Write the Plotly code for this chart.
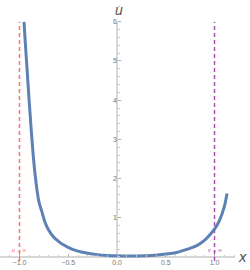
import plotly.graph_objects as go

x_vals = [-0.954, -0.94, -0.92, -0.90, -0.88, -0.86, -0.84, -0.82, -0.80, -0.77, -0.74, -0.70,
          -0.65, -0.60, -0.55, -0.50, -0.45, -0.40, -0.30, -0.20, -0.10, 0.0, 0.1, 0.2, 0.3,
          0.4, 0.5, 0.6, 0.7, 0.8, 0.85, 0.9, 0.95, 1.0, 1.05, 1.1, 1.128]
u_vals = [6.0, 5.45, 4.7, 3.95, 3.25, 2.62, 2.1, 1.7, 1.4, 1.15, 0.9, 0.68,
          0.51, 0.4, 0.31, 0.245, 0.19, 0.15, 0.095, 0.06, 0.04, 0.03, 0.025, 0.025, 0.03,
          0.045, 0.075, 0.11, 0.18, 0.27, 0.34, 0.43, 0.56, 0.71, 0.93, 1.28, 1.62]

x_ticks = [-1.0, -0.5, 0.0, 0.5, 1.0]
x_tick_labels = ["\u22121.0", "\u22120.5", "0.0", "0.5", "1.0"]
y_ticks = [1, 2, 3, 4, 5, 6]
asym_left = -1.0
asym_right = 1.0
asym_top = 6.0
asym_bottom = -0.1

XR = [-1.2, 1.364]
YR = [-0.332, 6.556]

fig = go.Figure()
fig.add_trace(go.Scatter(x=[asym_left, asym_left], y=[asym_bottom, asym_top], mode="lines",
                         line=dict(color="rgba(255,90,90,0.85)", width=1.5, dash="4px,3px"),
                         hoverinfo="skip"))
fig.add_trace(go.Scatter(x=[asym_right, asym_right], y=[asym_bottom, asym_top], mode="lines",
                         line=dict(color="rgba(160,50,170,0.85)", width=1.5, dash="4px,3px"),
                         hoverinfo="skip"))
fig.add_trace(go.Scatter(x=x_vals, y=u_vals, mode="lines",
                         line=dict(color="#5E81B5", width=3, shape="spline", smoothing=1)))

# axis lines
fig.add_shape(type="line", x0=XR[0], x1=1.21, y0=0, y1=0, line=dict(color="#b0b0b0", width=1), layer="below")
fig.add_shape(type="line", x0=0, x1=0, y0=0, y1=6, line=dict(color="#b0b0b0", width=1), layer="below")

fig.update_layout(
    width=250, height=270, margin=dict(l=0, r=0, t=0, b=0),
    paper_bgcolor="white", plot_bgcolor="white", showlegend=False,
    xaxis=dict(range=XR, domain=[0, 1], anchor="free", position=0.332 / 6.888,
               showgrid=False, zeroline=False, showline=False,
               tickvals=x_ticks, ticktext=x_tick_labels, ticks="inside", ticklen=3,
               tickcolor="#b0b0b0", tickfont=dict(size=7, color="#777", family="Liberation Sans"),
               minor=dict(dtick=0.1, tick0=0, ticks="inside", ticklen=2, tickcolor="#c8c8c8")),
    yaxis=dict(range=YR, domain=[0, 1], anchor="free", position=1.2 / 2.564,
               showgrid=False, zeroline=False, showline=False,
               tickvals=y_ticks, ticks="inside", ticklen=3,
               tickcolor="#b0b0b0", tickfont=dict(size=7, color="#777", family="Liberation Sans"),
               minor=dict(dtick=0.2, tick0=0, ticks="inside", ticklen=2, tickcolor="#c8c8c8")),
)

fig.add_annotation(x=0.02, y=6.3, text="<i>u</i>", showarrow=False, xanchor="center", yanchor="middle",
                   font=dict(size=14, color="#555", family="Liberation Sans"))
fig.add_annotation(x=1.29, y=0, text="<i>x</i>", showarrow=False, xanchor="center", yanchor="middle",
                   font=dict(size=15, color="#555", family="Liberation Sans"))
fig.add_annotation(x=asym_left, y=0.18, text="<i>u</i> \u2192 \u221e", showarrow=False,
                   font=dict(size=5, color="#ff3030", family="Liberation Sans"))
fig.add_annotation(x=asym_right, y=0.18, text="<i>v</i> \u2192 \u221e", showarrow=False,
                   font=dict(size=5, color="#a020a0", family="Liberation Sans"))

fig.write_html("out.html", config={"displayModeBar": False},
               post_script="document.body.style.margin='0px';")
